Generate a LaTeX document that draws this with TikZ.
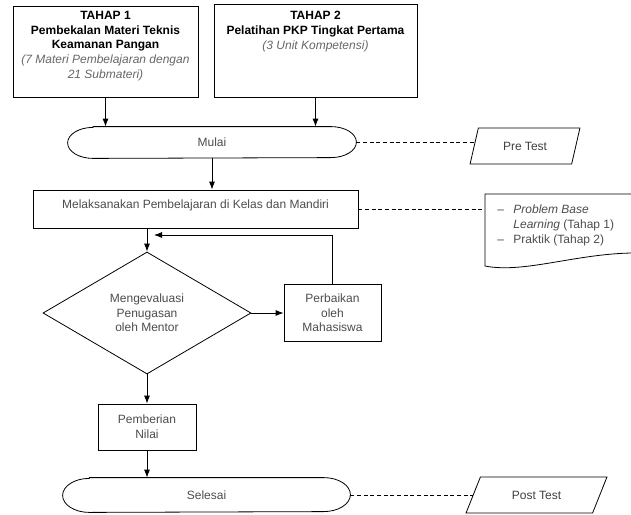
\documentclass[tikz,border=0pt]{standalone}
\usepackage{fontspec}
\setmainfont{Liberation Sans}
\usetikzlibrary{shapes.geometric,arrows.meta}

\begin{document}
\begin{tikzpicture}[x=0.75pt, y=-0.75pt, line width=0.6pt, font=\fontsize{9}{11}\selectfont]
      \tikzstyle{arrow} = [->, >={Latex[length=6pt, width=4.5pt]}]
      \tikzstyle{link} = [dash pattern=on 3pt off 2pt]
      \tikzstyle{box} = [rectangle, draw=black, inner sep=0pt, align=center, text=black!70]
      \tikzstyle{txt} = [align=center, inner sep=0pt]
      \tikzstyle{terminal} = [rectangle, inner sep=0pt, text=black!70]
      \tikzstyle{io} = [trapezium, trapezium stretches=true, draw=black, inner sep=0pt, text=black!75]
      \tikzstyle{decision} = [diamond, draw=black, inner sep=0pt, align=center, text=black!70]

      \useasboundingbox (0,0) rectangle (631,514);

      % tahap
      \node[box, minimum width=138.75pt, minimum height=68.25pt] (tahap-1) at (105.5,51.5) {};
      \node[box, minimum width=152.25pt, minimum height=69.75pt] (tahap-2) at (315.5,50.5) {};
      \node[txt, anchor=north] (tahap-1-txt) at (105.5,11) {\textbf{TAHAP 1}\\ \textbf{Pembekalan Materi Teknis}\\ \textbf{Keamanan Pangan}\\ \textcolor{black!60}{\textit{(7 Materi Pembelajaran dengan}}\\ \textcolor{black!60}{\textit{21 Submateri)}}};
      \node[txt, anchor=north] (tahap-2-txt) at (315.5,11) {\textbf{TAHAP 2}\\ \textbf{Pelatihan PKP Tingkat Pertama}\\ \textcolor{black!60}{\textit{(3 Unit Kompetensi)}}};

      % alur utama
      \node[terminal, minimum width=216pt, minimum height=23.25pt] (mulai) at (212,142.5) {Mulai};
      \draw ([xshift=19pt]mulai.north west) -- ([xshift=-19pt]mulai.north east)
            arc[start angle=90, end angle=-90, x radius=19pt, y radius=11.625pt]
            -- ([xshift=19pt]mulai.south west)
            arc[start angle=270, end angle=90, x radius=19pt, y radius=11.625pt] -- cycle;
      \node[box, minimum width=243.75pt, minimum height=28.5pt] (kegiatan) at (195.5,209) {};
      \node[txt, anchor=north, text=black!70] (kegiatan-txt) at (195.5,199) {Melaksanakan Pembelajaran di Kelas dan Mandiri};
      \node[decision, minimum width=156pt, minimum height=91.5pt] (evaluasi) at (147,313) {Mengevaluasi\\ Penugasan\\ oleh Mentor};
      \node[box, minimum width=72.75pt, minimum height=42.75pt] (perbaikan) at (332.5,313) {Perbaikan\\ oleh\\ Mahasiswa};
      \node[box, minimum width=73.5pt, minimum height=34.5pt] (nilai) at (147,427) {Pemberian\\ Nilai};
      \node[terminal, minimum width=215.25pt, minimum height=25.5pt] (selesai) at (206.5,495) {Selesai};
      \draw ([xshift=20pt]selesai.north west) -- ([xshift=-20pt]selesai.north east)
            arc[start angle=90, end angle=-90, x radius=20pt, y radius=12.75pt]
            -- ([xshift=20pt]selesai.south west)
            arc[start angle=270, end angle=90, x radius=20pt, y radius=12.75pt] -- cycle;
      \coordinate (balik) at (154,235);

      % tes dan catatan
      \node[io, minimum width=82.5pt, minimum height=27pt, trapezium left angle=65, trapezium right angle=115] (pre-test) at (525,146) {Pre Test};
      \node[io, minimum width=105.75pt, minimum height=27pt, trapezium left angle=53, trapezium right angle=127] (post-test) at (536.5,495) {Post Test};
      \coordinate (doc-nw) at (485,194);
      \coordinate (doc-ne) at (640,194);
      \coordinate (doc-se) at (640,253);
      \coordinate (doc-sw) at (485,266);
      \coordinate (doc-w) at (485,209);
      \draw (doc-se) -- (doc-ne) -- (doc-nw) -- (doc-sw) .. controls (525,274) and (580,252) .. (doc-se);
      \node[anchor=north west, inner sep=0pt, text=black!70] (catatan) at (497,203) {\begin{tabular}{@{}l@{\hspace{7pt}}l@{}}
        -- & \textit{Problem Base}\\
           & \textit{Learning} (Tahap 1)\\
        -- & Praktik (Tahap 2)
      \end{tabular}};

      \draw [arrow] (tahap-1.south) -- (tahap-1.south |- mulai.north);
      \draw [arrow] (tahap-2.south) -- (tahap-2.south |- mulai.north);
      \draw [arrow] (mulai.south) -- (mulai.south |- kegiatan.north);
      \draw [arrow] (kegiatan.south -| evaluasi.north) -- (evaluasi.north);
      \draw [arrow] (evaluasi.east) -- (perbaikan.west);
      \draw [arrow] (perbaikan.north) |- (balik);
      \draw [arrow] (evaluasi.south) -- (nilai.north);
      \draw [arrow] (nilai.south) -- (nilai.south |- selesai.north);

      \draw [link] (mulai.east) -- (mulai.east -| pre-test.west);
      \draw [link] (kegiatan.east) -- (doc-w);
      \draw [link] (selesai.east) -- (selesai.east -| post-test.west);
\end{tikzpicture}
\end{document}
